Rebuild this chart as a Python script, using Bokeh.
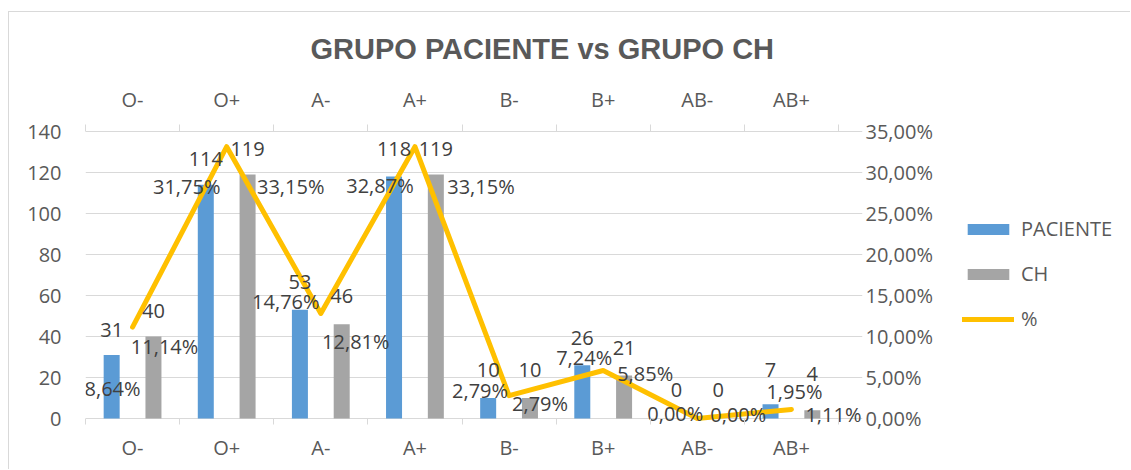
from bokeh.plotting import figure
from bokeh.layouts import row
from bokeh.models import (Range1d, LinearAxis, FixedTicker, CustomJSTickFormatter,
                          Legend, LegendItem, Title, ColumnDataSource, Grid)
from bokeh.core.properties import value
from bokeh.embed import file_html
from bokeh.resources import INLINE

# ---------------- data ----------------
categories = ["O-", "O+", "A-", "A+", "B-", "B+", "AB-", "AB+"]
paciente = [31, 114, 53, 118, 10, 26, 0, 7]
ch = [40, 119, 46, 119, 10, 21, 0, 4]
pct_paciente = [8.64, 31.75, 14.76, 32.87, 2.79, 7.24, 0.00, 1.95]
pct_ch = [11.14, 33.15, 12.81, 33.15, 2.79, 5.85, 0.00, 1.11]

# ---------------- label placement (screen px, style only) ----------------
BASE_CORR = 9
bar_lbl_up_pac = [16, 17, 19, 19, 19, 18, 20, 25]
bar_lbl_up_ch = [17, 17, 19, 17, 19, 18, 20, 27]
pct_pac_dx = [-20, -40, -35, -35, -29, -19, -22, 3]
pct_pac_dy = [41, 28, 4, 37, -5, -2, -5, -11]
pct_ch_dx = [32, 64, 35, 66, 31, 42, 41, 42]
pct_ch_dy = [19, 40, 28, 40, 8, 3, -4, 5]

FONT = "Open Sans"
AXIS_COLOR = "#595959"
LABEL_COLOR = "#404040"
GRID_COLOR = "#D9D9D9"
BLUE = "#5B9BD5"
GRAY = "#A5A5A5"
GOLD = "#FFC000"

n = len(categories)
centers = [i + 0.5 for i in range(n)]
off = 0.222
bw = 0.17
x_pac = [c - off for c in centers]
x_ch = [c + off for c in centers]

# geometry: category area 753 px wide, frame widened 24 px to the right so labels are not clipped
CAT_PX, EXTRA_R = 753.0, 24
# value axis spans 287 px; frame padded 6 px below and 7 px above for the tick marks
AX_PX = 287.0
PAD_B, PAD_T = 6, 7
LMAX, PMAX = 140, 35
x_rng = Range1d(0, n * (CAT_PX + EXTRA_R) / CAT_PX)
y_left = Range1d(-PAD_B * LMAX / AX_PX, LMAX + PAD_T * LMAX / AX_PX)
y_pct = Range1d(-PAD_B * PMAX / AX_PX, PMAX + PAD_T * PMAX / AX_PX)


def fmt_pct(v):
    return f"{v:.2f}".replace(".", ",") + "%"


H = 458
W1, W2 = 940, 184
FRAME_L = 76
FRAME_R = FRAME_L + int(CAT_PX) + EXTRA_R

p = figure(width=W1, height=H, x_range=x_rng, y_range=y_left,
           output_backend="svg", toolbar_location=None,
           x_axis_type=None, y_axis_type=None,
           min_border_left=FRAME_L, min_border_right=W1 - FRAME_R,
           min_border_top=112, min_border_bottom=46)
p.extra_y_ranges = {"pct": y_pct}
p.outline_line_color = None
p.background_fill_color = "white"
p.border_fill_color = "white"
p.styles = {"border-left": "1px solid #D9D9D9", "border-top": "1px solid #D9D9D9"}

# ---------------- axes ----------------
xticker = FixedTicker(ticks=centers, minor_ticks=list(range(n + 1)))
xfmt = CustomJSTickFormatter(args=dict(cats=categories), code="return cats[Math.floor(tick)];")


def style_x_axis(ax, tick_in, standoff):
    ax.axis_line_color = None
    ax.major_tick_line_color = None
    ax.major_tick_out = 0
    ax.major_tick_in = 0
    ax.minor_tick_line_color = GRID_COLOR
    ax.minor_tick_out = 0
    ax.minor_tick_in = tick_in
    ax.major_label_standoff = standoff
    ax.major_label_text_font = FONT
    ax.major_label_text_font_size = "20px"
    ax.major_label_text_color = AXIS_COLOR


xb = LinearAxis(ticker=xticker, formatter=xfmt)
style_x_axis(xb, PAD_B, 9)
p.add_layout(xb, "below")

xt = LinearAxis(ticker=xticker, formatter=xfmt)
style_x_axis(xt, PAD_T, 12)
xt.axis_label = " "
xt.axis_label_standoff = 9
xt.axis_label_text_font_size = "1px"
p.add_layout(xt, "above")

yticker = FixedTicker(ticks=list(range(0, LMAX + 1, 20)))
yl = LinearAxis(ticker=yticker)
yl.axis_line_color = None
yl.major_tick_line_color = None
yl.minor_tick_line_color = None
yl.major_tick_out = 0
yl.major_label_standoff = 24
yl.major_label_text_font = FONT
yl.major_label_text_font_size = "20px"
yl.major_label_text_color = AXIS_COLOR
p.add_layout(yl, "left")

pticker = FixedTicker(ticks=list(range(0, PMAX + 1, 5)))
yr = LinearAxis(y_range_name="pct", ticker=pticker,
                formatter=CustomJSTickFormatter(code="return tick.toFixed(2).replace('.', ',') + '%';"))
yr.axis_line_color = None
yr.major_tick_line_color = None
yr.minor_tick_line_color = None
yr.major_tick_out = 0
yr.major_label_standoff = 3
yr.major_label_text_font = FONT
yr.major_label_text_font_size = "20px"
yr.major_label_text_color = AXIS_COLOR
p.add_layout(yr, "right")

p.add_layout(Grid(dimension=1, ticker=yticker, bounds=(0, n),
                  grid_line_color=GRID_COLOR, grid_line_width=1))

# ---------------- glyphs ----------------
src_pac = ColumnDataSource(dict(x=x_pac, top=paciente, txt=[str(v) for v in paciente],
                                dy=[-(d + BASE_CORR) for d in bar_lbl_up_pac]))
src_ch = ColumnDataSource(dict(x=x_ch, top=ch, txt=[str(v) for v in ch],
                               dy=[-(d + BASE_CORR) for d in bar_lbl_up_ch]))

p.vbar(x="x", top="top", width=bw, source=src_pac, fill_color=BLUE, line_color=None)
p.vbar(x="x", top="top", width=bw, source=src_ch, fill_color=GRAY, line_color=None)

p.line(x=centers, y=pct_ch, y_range_name="pct", line_color=GOLD, line_width=5,
       line_join="round", line_cap="round")

for s in (src_pac, src_ch):
    p.text(x="x", y="top", text="txt", source=s, y_offset="dy",
           text_font=value(FONT), text_font_size=value("20px"), text_color=LABEL_COLOR,
           text_align="center", text_baseline="alphabetic")

src_pp = ColumnDataSource(dict(x=centers, y=pct_paciente, txt=[fmt_pct(v) for v in pct_paciente],
                               dx=pct_pac_dx, dy=pct_pac_dy))
src_pc = ColumnDataSource(dict(x=centers, y=pct_ch, txt=[fmt_pct(v) for v in pct_ch],
                               dx=pct_ch_dx, dy=pct_ch_dy))
for s in (src_pp, src_pc):
    p.text(x="x", y="y", text="txt", source=s, x_offset="dx", y_offset="dy", y_range_name="pct",
           text_font=value(FONT), text_font_size=value("20px"), text_color=LABEL_COLOR,
           text_align="center", text_baseline="middle")

# ---------------- title ----------------
p.title = Title(text="GRUPO PACIENTE vs GRUPO CH", align="left", offset=225, standoff=10,
                text_font="Liberation Sans", text_font_size="29px", text_font_style="bold",
                text_color=AXIS_COLOR)

# ---------------- legend (own panel to the right) ----------------
pl = figure(width=W2, height=H, x_range=Range1d(0, 1), y_range=Range1d(0, 1),
            output_backend="svg", toolbar_location=None,
            x_axis_type=None, y_axis_type=None, min_border=0)
pl.outline_line_color = None
pl.background_fill_color = "white"
pl.border_fill_color = "white"
pl.styles = {"border-top": "1px solid #D9D9D9", "margin-left": "-2px"}

# legend key proxies: NaN data, so nothing is drawn in the plot area
NAN = float("nan")
k_pac = pl.vbar(x=[0.5], top=[NAN], width=0.1, fill_color=BLUE, line_color=None)
k_ch = pl.vbar(x=[0.5], top=[NAN], width=0.1, fill_color=GRAY, line_color=None)
k_line = pl.line(x=[NAN, NAN], y=[NAN, NAN], line_color=GOLD, line_width=5, line_cap="round")

legend = Legend(items=[LegendItem(label="PACIENTE", renderers=[k_pac]),
                       LegendItem(label="CH", renderers=[k_ch]),
                       LegendItem(label="%", renderers=[k_line])],
                location=(16, 92), orientation="vertical",
                border_line_color=None, background_fill_alpha=0,
                padding=0, margin=0, spacing=18, glyph_width=52, glyph_height=14,
                label_standoff=7, label_text_font=FONT, label_text_font_size="20px",
                label_text_color=AXIS_COLOR)
pl.add_layout(legend, "center")

lay = row(p, pl)
lay.styles = {"margin-left": "8px", "margin-top": "11px"}

open("out.html", "w").write(file_html(lay, INLINE))
